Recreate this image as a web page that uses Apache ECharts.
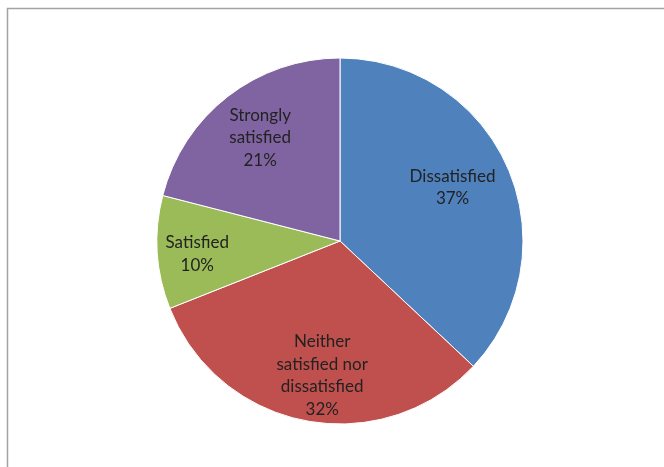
<!DOCTYPE html>
<html>
<head>
<meta charset="utf-8">
<script src="https://cdn.jsdelivr.net/npm/echarts@6/dist/echarts.min.js"></script>
<style>
html,body{margin:0;padding:0;background:#fff;}
#c{width:664px;height:467px;}
</style>
</head>
<body>
<div id="c"></div>
<script>
const categories = ['Dissatisfied', 'Neither\nsatisfied nor\ndissatisfied', 'Satisfied', 'Strongly\nsatisfied'];
const values = [37, 32, 10, 21];
const colors = ['#4F81BD', '#C0504D', '#9BBB59', '#8064A2'];
// label nudges (layout only)
const labelOffsets = [[-4, -3], [6, 10], [-16, 5], [-2, -3]];

const chart = echarts.init(document.getElementById('c'));
const center = [340, 241];
const R = 183;
chart.setOption({
  animation: false,
  graphic: [{
    type: 'rect', shape: {x: 7.5, y: 8.5, width: 720, height: 520},
    style: {fill: 'none', stroke: '#a3a3a3', lineWidth: 1.5}, silent: true
  }],
  series: [{
    type: 'pie',
    center: center,
    radius: [0, R],
    startAngle: 90,
    clockwise: true,
    silent: true,
    label: {show: false},
    labelLine: {show: false},
    itemStyle: {borderColor: '#fff', borderWidth: 1},
    data: categories.map((c, i) => ({name: c, value: values[i], itemStyle: {color: colors[i]}}))
  }, {
    type: 'pie',
    center: center,
    radius: [0, 248],
    startAngle: 90,
    clockwise: true,
    silent: true,
    itemStyle: {color: 'rgba(0,0,0,0)'},
    labelLine: {show: false},
    label: {
      show: true,
      position: 'inside',
      formatter: p => p.name + '\n' + p.value + '%',
      fontFamily: 'Lato, "Liberation Sans", sans-serif',
      fontSize: 17,
      lineHeight: 22.5,
      color: '#222',
      align: 'center'
    },
    data: categories.map((c, i) => ({name: c, value: values[i], label: {offset: labelOffsets[i]}}))
  }]
});
</script>
</body>
</html>
